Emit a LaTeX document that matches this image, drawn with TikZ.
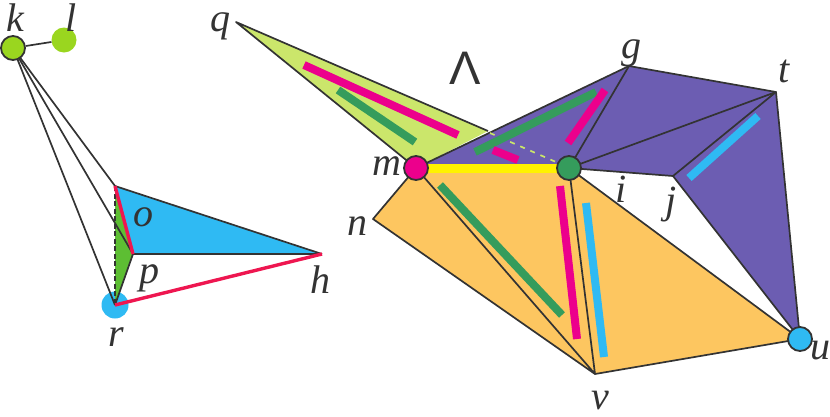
\documentclass[tikz,border=0pt]{standalone}
\usepackage{fontspec}
\setmainfont{Liberation Serif}
\newfontfamily\lamfont{Liberation Sans}
\definecolor{ink}{HTML}{333333}
\definecolor{lime}{HTML}{CBE66B}
\definecolor{vio}{HTML}{6C5DB2}
\definecolor{ora}{HTML}{FDC660}
\definecolor{sky}{HTML}{2FBAF3}
\definecolor{leaf}{HTML}{5DBE33}
\definecolor{pnk}{HTML}{EC008C}
\definecolor{grn}{HTML}{359C5C}
\definecolor{rd}{HTML}{EE1650}
\definecolor{yel}{HTML}{FFF200}
\definecolor{yg}{HTML}{9AD61F}
\tikzset{
  edge/.style={draw=ink,line width=1.7pt,line join=round},
  bar/.style={line width=8pt},
  redline/.style={draw=rd,line width=3.4pt},
  dot/.style={circle,inner sep=0pt,minimum size=24pt,draw=ink,line width=1.8pt},
  plaindot/.style={circle,inner sep=0pt,minimum size=27pt},
  lab/.style={font=\fontsize{40}{40}\selectfont\itshape,text=ink,inner sep=0pt,anchor=base},
}
\begin{document}
\begin{tikzpicture}[x=1pt,y=-1pt]
\useasboundingbox (0,0) rectangle (830,416);
\coordinate (o) at (115,186); \coordinate (p) at (133,254);
\coordinate (h) at (322,254); \coordinate (q) at (236,22);
\coordinate (g) at (629,66); \coordinate (t) at (776,92);
\coordinate (jj) at (673,176); \coordinate (vv) at (595,374);
\coordinate (nn) at (373,219); \coordinate (ql) at (488,131);
\coordinate (dsA) at (490,133); \coordinate (dsB) at (556,162);
% anchors of the circles
\node[plaindot,fill=sky] (r) at (115,305) {};
\coordinate (rc) at (115,305);
\coordinate (mc) at (416,168); \coordinate (ic) at (569,168); \coordinate (uc) at (800,339);
\coordinate (kc) at (13,48);
% fills
\fill[lime] (q) -- (mc) -- (ql) -- cycle;
\fill[vio] (mc) -- (g) -- (t) -- (uc) -- (jj) -- (ic) -- cycle;
\fill[ora] (nn) -- (mc) -- (ic) -- (uc) -- (vv) -- cycle;
\fill[sky] (o) -- (h) -- (p) -- cycle;
\fill[leaf] (o) -- (p) -- (rc) -- cycle;
% edges
\draw[edge] (ql) -- (q) -- (mc);
\draw[edge] (mc) -- (g) -- (t) -- (uc) -- (jj) -- (ic);
\draw[edge] (g) -- (ic) -- (t) -- (jj);
\draw[edge] (mc) -- (nn) -- (vv) -- (uc) -- (ic) -- (vv) -- (mc);
\draw[edge] (kc) -- (o); \draw[edge] (kc) -- (p); \draw[edge] (kc) -- (rc);
\draw[edge] (o) -- (h); \draw[edge] (p) -- (h); \draw[edge] (p) -- (rc);
\draw[edge,dash pattern=on 5pt off 2.5pt] (o) -- (rc);
\draw[redline] (o) -- (p);
\draw[redline] (rc) -- (h);
\draw[lime,line width=1.7pt,dash pattern=on 5pt off 6pt] (dsA) -- (dsB);
% bars
\draw[bar,pnk] (304,65) -- (458,135);
\draw[bar,grn] (338,90) -- (415,142);
\draw[bar,grn] (475,152) -- (596,92);
\draw[bar,pnk] (568,143) -- (605,90);
\draw[bar,pnk] (493,150) -- (518,160);
\draw[bar,grn] (440,185) -- (562,315);
\draw[bar,pnk] (560,186) -- (577,339);
\draw[bar,sky] (586,203) -- (604,357);
\draw[bar,sky] (689,178) -- (758,116);
\draw[yel,line width=9pt] (mc) -- (ic);
% vertices
\node[dot,fill=yg] (k) at (kc) {};
\node[plaindot,minimum size=25pt,fill=yg] (l) at (64,40) {};
\draw[edge] (k) -- (l);
\node[dot,fill=pnk] (m) at (mc) {};
\node[dot,fill=grn] (i) at (ic) {};
\node[dot,fill=sky] (u) at (uc) {};
% labels
\node[lab] (Lk) at (15,31) {k};
\node[lab] (Ll) at (71,31) {l};
\node[lab] (Lq) at (220,31) {q};
\node[lab] (Lg) at (631,58) {g};
\node[lab] (Lt) at (784,82) {t};
\node[lab] (Lm) at (387,175) {m};
\node[lab] (Ln) at (357,235) {n};
\node[lab] (Li) at (621,202) {i};
\node[lab] (Lj) at (671,213) {j};
\node[lab] (Lo) at (143,226) {o};
\node[lab] (Lp) at (149,283) {p};
\node[lab] (Lh) at (320,293) {h};
\node[lab] (Lr) at (116,346) {r};
\node[lab] (Lu) at (820,359) {u};
\node[lab] (Lv) at (600,409) {v};
\node[inner sep=0pt,anchor=base,text=ink,font=\fontsize{47}{47}\selectfont\lamfont] (Lam) at (465,84) {Λ};
\end{tikzpicture}
\end{document}
